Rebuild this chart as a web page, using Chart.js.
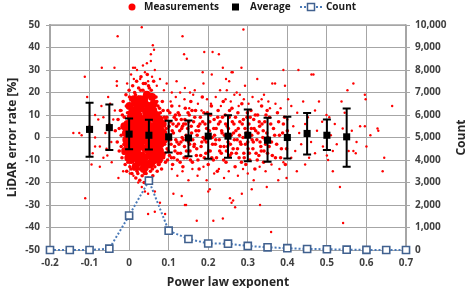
<!DOCTYPE html>
<html>
<head>
<meta charset="utf-8">
<script src="https://cdn.jsdelivr.net/npm/chart.js@4/dist/chart.umd.min.js"></script>
<style>
  html, body { margin: 0; padding: 0; background: #fff; }
</style>
</head>
<body>
<canvas id="chart" width="475" height="288"></canvas>
<script>
// average error rate per exponent bin, with whisker ends
const avgX = [-0.1, -0.05, 0, 0.05, 0.1, 0.15, 0.2, 0.25, 0.3, 0.35, 0.4, 0.45, 0.5, 0.55];
const avgY = [3.6, 4.4, 1.5, 1.0, 0.3, -0.2, 0.6, 0.6, 1.0, -1.2, 0.0, 1.8, 1.0, 0.3];
const avgUpper = [15.5, 14.7, 8.4, 7.9, 7.4, 7.6, 10.6, 9.9, 12.5, 8.8, 9.2, 10.9, 8.0, 12.9];
const avgLower = [-8.6, -5.6, -5.2, -5.3, -6.7, -8.3, -9.4, -9.0, -10.6, -10.8, -9.3, -7.6, -5.6, -13.0];

// number of samples per bin (right axis)
const countX = [-0.2, -0.15, -0.1, -0.05, 0, 0.05, 0.1, 0.15, 0.2, 0.25, 0.3, 0.35, 0.4, 0.45, 0.5, 0.55, 0.6, 0.65, 0.7];
const countY = [0, 0, 0, 60, 1530, 3080, 860, 490, 290, 280, 180, 120, 80, 45, 35, 15, 5, 0, 0];

// measurements: saturated core of the cloud
const measCore = [
  [-0.008,2],[-0.005,-3],[-0.004,6],[0.002,-7],[0.003,0],[0.004,9],[0.006,4],[0.008,-4],[0.01,12],[0.012,-9],
  [0.013,2],[0.015,7],[0.016,-2],[0.018,15],[0.02,-6],[0.021,4],[0.023,10],[0.024,-11],[0.026,0],[0.027,6],
  [0.029,-4],[0.03,13],[0.032,2],[0.033,-8],[0.035,8],[0.036,-1],[0.038,17],[0.04,4],[0.041,-5],[0.043,11],
  [0.044,-12],[0.046,1],[0.047,7],[0.049,-3],[0.05,14],[0.052,-8],[0.053,3],[0.055,9],[0.056,-1],[0.058,-6],
  [0.06,5],[0.061,12],[0.063,-3],[0.065,1],[0.066,8],[0.068,-9],[0.07,3],[0.072,-4],[0.074,6],[0.076,0],
  [0.078,-6],[0.08,3],[0.083,-2],[0.005,-10],[0.017,-13],[0.028,17],[0.037,-14],[0.045,19],[0.057,-11],[0.062,15],
  [0.069,10],[0.075,-10],[0.085,6],[0.088,-1],[-0.01,-6],[-0.012,5],[0.001,14],[0.011,-1],[0.019,1],[0.022,-3],
  [0.031,-2],[0.034,5],[0.039,0],[0.042,2],[0.048,-1],[0.051,5],[0.054,-4],[0.059,1],[0.064,-6],[0.067,4],
  [0.073,1],[0.009,6],[0.025,9],[0.044,9],[0.05,-6],[0.016,-7],[0.003,3],
  [0.0,-2],[0.007,11],[0.014,-5],[0.02,9],[0.027,-9],[0.033,15],[0.04,-9],[0.046,12],[0.053,-12],[0.06,9],
  [0.066,-2],[0.071,-7],[0.077,8],[0.082,-8],[0.086,2],[-0.002,-9],[0.012,17],[0.04,15],[0.058,18],[0.035,-11],
  [0.062,-9],[0.079,-3],[-0.007,-1],[0.022,13],[0.052,10]
];

// measurements: dense band
const measDense = [
  [-0.035,3],[-0.03,-2],[-0.028,8],[-0.025,-6],[-0.022,12],[-0.02,1],[-0.018,-9],[-0.016,5],[-0.015,16],[-0.013,-3],
  [-0.012,9],[-0.01,-12],[-0.008,19],[-0.006,-15],[-0.004,11],[-0.002,-8],[0,21],[0.002,-13],[0.004,17],[0.007,-16],
  [0.009,23],[0.012,-14],[0.014,20],[0.017,-18],[0.019,25],[0.022,-16],[0.024,22],[0.027,-19],[0.03,27],[0.033,-17],
  [0.035,21],[0.038,-20],[0.041,24],[0.043,-16],[0.046,28],[0.048,-18],[0.051,22],[0.054,-15],[0.057,19],[0.06,-17],
  [0.062,25],[0.065,-13],[0.068,18],[0.071,-15],[0.073,14],[0.076,-12],[0.079,11],[0.082,-14],[0.084,16],[0.087,-9],
  [0.089,9],[0.092,-11],[0.094,4],[0.096,-5],[0.098,12],[0.1,0],[0.102,-8],[0.104,7],[0.106,-3],[0.108,14],
  [0.11,-12],[0.112,2],[0.114,9],[0.116,-6],[0.118,-1],[0.12,5],[0.122,-10],[0.124,11],[0.126,-3],[0.128,3],
  [0.13,-7],[0.132,8],[0.134,0],[0.136,-13],[0.138,6],[0.14,-4],[0.142,13],[0.144,1],[0.146,-9],[0.148,4],
  [0.15,-2],[0.152,10],[0.154,-6],[0.156,16],[0.158,2],[0.16,-11],[0.163,7],[0.165,-3],[0.168,12],[0.17,-8],
  [0.172,1],[0.175,5],[0.177,-14],[0.18,9],[0.182,-4],[0.185,18],[0.187,0],[0.19,-9],[0.192,6],[0.195,-2],
  [0.198,11],[0.2,-12],[0.203,3],[0.205,-6],[0.208,14],[0.21,0],[0.213,-10],[0.215,8],[0.218,-3],[0.22,4],
  [0.223,-15],[0.225,12],[0.228,-1],[0.23,7],[0.233,-7],[0.235,2],[0.238,16],[0.24,-4],[0.243,10],[0.245,-11],
  [0.248,5],[0.25,-2],[0.253,9],[0.255,-8],[0.258,1],[0.26,13],[0.263,-5],[0.265,6],[0.268,-13],[0.27,3],
  [0.273,-1],[0.275,11],[0.278,-9],[0.28,7],[0.283,-3],[0.285,15],[0.288,0],[0.29,-7],[0.293,4],[0.295,-12],
  [0.298,9],[0.3,-2],[0.303,6],[0.305,-10],[0.308,12],[0.31,1],[0.313,-5],[0.315,8],[0.318,-14],[0.32,3],
  [0.323,-1],[0.325,10],[0.328,-8],[0.33,5],[0.333,-4],[0.335,14],[0.338,0],[0.34,-11],[0.343,7],[0.345,-3],
  [0.348,2],[0.35,-7],[0.355,9],[0.36,-2],[0.365,4],[0.37,-9],[0.375,11],[0.38,1],[0.385,-5],[0.39,6],
  [0.395,-12],[0.4,3],
  [0.085,2],[0.09,-3],[0.093,8],[0.097,-10],[0.101,5],[0.105,-1],[0.109,3],[0.113,-9],[0.117,10],[0.121,-2],
  [0.125,6],[0.129,-11],[0.133,4],[0.137,-1],[0.141,8],[0.145,-6],[0.149,11],[0.153,-3],[0.157,5],[0.161,-1],
  [0.166,9],[0.171,-5],[0.176,3],[0.181,-8],[0.186,7],[0.191,-1],[0.196,4],[0.201,-6],[0.206,10],[0.211,-3],
  [0.216,1],[0.221,-9],[0.226,6],[0.231,-4],[0.236,9],[0.241,1],[0.246,-6],[0.251,4],[0.256,-3],[0.261,7],
  [0.266,-1],[0.271,-7],[0.276,4],[0.281,-2],[0.286,6],[0.291,-9],[0.296,2],[0.301,-5],[0.306,9],[0.311,-1],
  [0.316,4],[0.321,-7],[0.326,2],[0.331,-2],[0.336,6],[0.341,-6],[0.346,10],[0.351,0],
  [-0.025,4],[-0.02,-4],[-0.017,10],[-0.014,-7],[-0.011,2],[-0.007,14],[-0.003,-11],[0.001,18],[0.005,-14],[0.008,15],
  [0.013,-12],[0.016,19],[0.02,-15],[0.023,18],[0.026,-14],[0.029,21],[0.032,-13],[0.036,24],[0.039,-16],[0.042,20],
  [0.045,-14],[0.049,23],[0.052,-12],[0.056,21],[0.059,-14],[0.063,18],[0.066,-11],[0.07,16],[0.074,-12],[0.077,13],
  [0.081,-10],[0.086,12],[0.09,-7],[0.095,9],[0.099,-6],[0.103,11],[0.107,-9],[0.111,6],[0.115,-4],[0.119,8],
  [0.123,-7],[0.127,10],[0.131,-2],[0.135,5],[0.139,-9],[0.143,6],[0.147,-1],[0.151,7],[0.155,-10],[0.159,12],
  [0.164,-4],[0.169,3],[0.174,-10],[0.179,6],[0.184,-2],[0.189,11],[0.194,-7],[0.199,1],[0.204,7],[0.209,-9],
  [0.214,4],[0.219,-1],[0.224,9],[0.229,-6],[0.234,3],[0.239,-10],[0.244,6],[0.249,-4],[0.254,12],[0.259,-7],
  [0.264,2],[0.269,9],[0.274,-5],[0.279,1],[0.284,-11],[0.289,8],[0.294,-3],[0.299,11],[0.304,-7],[0.309,4],
  [0.314,-2],[0.319,10],[0.324,-10],[0.329,7],[0.334,-6],[0.339,3],[0.344,-1],[0.349,12],[0.354,-4],[0.358,6],
  [0.362,-8],[0.368,1],[0.373,-3],[0.378,7],[0.383,-9],[0.388,2],[0.393,9],[0.398,-5]
];

// measurements: scattered outliers
const measSparse = [
  [0.032,49],[-0.029,45],[0.06,41],[0.055,37],[0.063,39],[0.055,34],[-0.112,27],[-0.037,31],[-0.031,25],[-0.031,23],
  [0.01,31],[0.015,31],[-0.053,18],[-0.019,12],[-0.106,18],[-0.069,31],
  [0.135,45],[0.289,48],[0.139,37],[0.146,35],[0.19,38],[0.211,38],[0.227,37],[0.186,29],[0.237,31],[0.259,29],
  [0.262,29],[0.284,31],[0.12,25],[0.209,28],[0.245,26],[0.253,25],[0.188,24],[0.293,23],[0.324,26],[0.362,24],
  [0.369,24],[0.39,30],[0.428,30],[0.394,23],[0.141,22],[0.154,20],[0.166,21],[0.129,20],[0.108,20],[0.23,21],
  [0.247,21],[0.272,20],[0.28,19],[0.335,17],[0.356,13],[0.402,17],
  [0.461,28],[0.466,28],[0.567,24],[0.552,21],[0.596,19],[0.598,17],[0.665,14],[0.48,16],[0.537,16],[0.499,10],
  [0.506,9],[0.584,5],[0.596,5],[0.628,4],[0.63,3],[0.563,3],
  [0.005,28],[0.02,30],[0.028,26],[0.04,29],[0.048,25],[0.058,27],[0.07,23],[0.078,26],[0.088,21],[0.095,24],
  [0.065,30],[0.035,32],[0.012,26],[-0.005,24],[0.045,33],
  [0.105,16],[0.118,18],[0.127,14],[0.14,17],[0.152,13],[0.162,19],[0.174,15],[0.183,12],[0.197,17],[0.207,15],
  [0.219,18],[0.232,14],[0.244,17],[0.257,16],[0.266,19],[0.277,14],[0.29,17],[0.302,15],[0.312,18],[0.327,16],
  [0.341,19],[0.352,16],[0.37,15],[0.383,13],[0.41,14],[0.425,11],[0.44,16],[0.452,9],[0.47,12],[0.488,7],
  [0.52,6],[0.545,11],[0.4,8],[0.415,5],[0.43,2],[0.445,6],[0.46,-2],[0.475,3],[0.49,-4],[0.51,1],
  [0.525,-3],[0.54,4],[0.555,-6],[0.575,-2],[0.61,1],[0.42,-6],[0.435,-3],[0.455,-9],[0.47,-7],[0.5,-8],
  [0.515,-6],[0.6,-4],[0.645,-9],
  [0.641,-15],[0.515,-15],[0.533,-22],[0.541,-38],[0.567,-6],[0.573,-7],[0.445,-12],[0.424,-15],[0.503,-10],
  [0.171,-37],[0.213,-37],[0.237,-36],[0.359,-42],[0.331,-30],[0.133,-26],[0.141,-30],[0.144,-30],[0.112,-25],[0.255,-27],
  [0.259,-29],[0.263,-28],[0.204,-23],[0.2,-24],[0.285,-25],[0.31,-23],[0.348,-22],[0.377,-19],[0.398,-18],[0.268,-31],
  [-0.111,-27],[-0.095,-12],[-0.065,-9],[-0.074,-13],[0.002,-16],[0.011,-17],[0.04,-24],[0.048,-25],[0.065,-24],[0.078,-29],
  [0.065,-33],[0.091,-34],[0.048,-34],[-0.044,-11],[-0.027,-18],[-0.015,-15],[0.023,-20],[0.032,-22],[-0.086,-4],[-0.057,-5],
  [0.108,-14],[0.122,-17],[0.135,-15],[0.15,-19],[0.16,-14],[0.173,-17],[0.188,-13],[0.196,-19],[0.215,-16],[0.227,-14],
  [0.24,-18],[0.252,-15],[0.275,-17],[0.288,-14],[0.3,-16],[0.315,-19],[0.33,-13],[0.345,-15],[0.36,-12],[0.38,-14],
  [0.39,-11],[0.41,-9],
  [-0.141,2],[-0.126,2],[-0.12,1],[-0.086,0],[-0.074,-4],[-0.065,9],[-0.036,12],[-0.086,10],[-0.078,8],[-0.07,14],
  [-0.05,6],[-0.045,-2],[-0.06,2],[-0.04,8],[-0.055,-8],[-0.048,15],[-0.1,5],[-0.092,-7]
];

const red = "#ff0000";
const countLine = "#4a7ab8";
const countMarker = "#41618f";
const gridGray = "#a6a6a6";
const FONT = "'Open Sans', sans-serif";

Chart.defaults.font.family = FONT;
Chart.defaults.color = "#404040";

const toPoints = arr => arr.map(p => ({ x: p[0], y: p[1] }));

// whiskers are drawn right before the Average squares
const errorBars = {
    id: "errorBars",
    beforeDatasetDraw(chart, args) {
        if (args.index !== 3) return;
        const c = chart.ctx, xs = chart.scales.x, ys = chart.scales.y;
        c.save();
        c.strokeStyle = "#000";
        c.lineWidth = 2;
        avgX.forEach((x, i) => {
            const px = xs.getPixelForValue(x);
            const top = ys.getPixelForValue(avgUpper[i]);
            const bot = ys.getPixelForValue(avgLower[i]);
            c.beginPath();
            c.moveTo(px, top); c.lineTo(px, bot);
            c.moveTo(px - 4, top); c.lineTo(px + 4, top);
            c.moveTo(px - 4, bot); c.lineTo(px + 4, bot);
            c.stroke();
        });
        c.restore();
    }
};

// top frame line, right axis title and the legend row
const extras = {
    id: "extras",
    beforeDatasetsDraw(chart) {
        const c = chart.ctx, a = chart.chartArea;
        c.save();
        c.strokeStyle = gridGray;
        c.lineWidth = 1.5;
        c.beginPath(); c.moveTo(a.left, a.top); c.lineTo(a.right, a.top); c.stroke();
        c.restore();
    },
    afterDraw(chart) {
        const c = chart.ctx, a = chart.chartArea;
        c.save();
        c.font = "bold 12px " + FONT;
        c.fillStyle = "#262626";
        c.textAlign = "center";
        c.textBaseline = "middle";
        c.translate(462, (a.top + a.bottom) / 2);
        c.rotate(-Math.PI / 2);
        c.fillText("Count", 0, 0);
        c.restore();

        const y = 7;
        c.save();
        c.font = "bold 10px " + FONT;
        c.textBaseline = "middle";
        c.fillStyle = red;
        c.beginPath(); c.arc(132, y, 3.5, 0, Math.PI * 2); c.fill();
        c.fillStyle = "#1a1a1a";
        c.fillText(chart.data.datasets[0].label, 144, y);
        c.fillStyle = "#000";
        c.fillRect(232, y - 3.5, 7, 7);
        c.fillStyle = "#1a1a1a";
        c.fillText(chart.data.datasets[3].label, 250, y);
        c.strokeStyle = countLine;
        c.lineWidth = 2;
        c.setLineDash([2, 2]);
        c.beginPath(); c.moveTo(300, y); c.lineTo(322, y); c.stroke();
        c.setLineDash([]);
        c.fillStyle = "#fff";
        c.fillRect(307.5, y - 3.5, 7, 7);
        c.strokeStyle = countMarker;
        c.lineWidth = 1.5;
        c.strokeRect(307.5, y - 3.5, 7, 7);
        c.fillStyle = "#1a1a1a";
        c.fillText(chart.data.datasets[4].label, 326, y);
        c.restore();
    }
};

const ctx = document.getElementById("chart").getContext("2d");
const chart = new Chart(ctx, {
    type: "scatter",
    data: {
        datasets: [
            {
                label: "Measurements",
                data: toPoints(measSparse),
                backgroundColor: red,
                pointRadius: 1.2,
                pointBorderWidth: 0,
                order: 10
            },
            {
                label: "dense",
                data: toPoints(measDense),
                backgroundColor: red,
                pointRadius: 1.8,
                pointBorderWidth: 0,
                order: 10
            },
            {
                label: "core",
                data: toPoints(measCore),
                backgroundColor: red,
                pointRadius: 4,
                pointBorderWidth: 0,
                order: 10
            },
            {
                type: "line",
                label: "Average",
                data: avgX.map((x, i) => ({ x: x, y: avgY[i] })),
                showLine: false,
                pointStyle: "rect",
                pointRadius: 5,
                pointBorderWidth: 0,
                backgroundColor: "#000",
                borderColor: "#000",
                order: 2
            },
            {
                type: "line",
                label: "Count",
                yAxisID: "y2",
                data: countX.map((x, i) => ({ x: x, y: countY[i] })),
                borderColor: countLine,
                borderWidth: 2,
                borderDash: [2, 2],
                pointStyle: "rect",
                pointRadius: 5,
                pointBorderWidth: 1.6,
                pointBorderColor: countMarker,
                pointBackgroundColor: "#fff",
                backgroundColor: "#fff",
                fill: false,
                clip: false,
                order: 1
            }
        ]
    },
    options: {
        responsive: false,
        animation: false,
        events: [],
        layout: { padding: { top: 25, left: 0, right: 0, bottom: 0 } },
        plugins: {
            legend: { display: false },
            tooltip: { enabled: false }
        },
        scales: {
            x: {
                type: "linear",
                min: -0.2,
                max: 0.7,
                afterFit: s => { s.height = 38; },
                ticks: {
                    stepSize: 0.1,
                    padding: 7,
                    font: { size: 10, weight: "bold" },
                    color: "#404040",
                    callback: v => String(+v.toFixed(2))
                },
                grid: { color: gridGray, borderDash: [2, 2], drawTicks: false },
                border: { color: gridGray, width: 1 },
                title: {
                    display: true,
                    text: "Power law exponent",
                    font: { size: 12, weight: "bold" },
                    color: "#262626",
                    padding: { top: 0, bottom: -2 }
                }
            },
            y: {
                min: -50,
                max: 50,
                afterFit: s => { s.width = 50; },
                ticks: {
                    stepSize: 10,
                    padding: 6,
                    font: { size: 10, weight: "bold" },
                    color: "#404040"
                },
                grid: { color: gridGray, borderDash: [2, 2], tickLength: 4, tickBorderDash: [] },
                border: { color: gridGray, width: 2 },
                title: {
                    display: true,
                    text: "LiDAR error rate [%]",
                    font: { size: 12, weight: "bold" },
                    color: "#262626",
                    padding: { top: 5, bottom: 0 }
                }
            },
            y2: {
                position: "right",
                min: 0,
                max: 10000,
                afterFit: s => { s.width = 69; },
                ticks: {
                    stepSize: 1000,
                    padding: 5,
                    font: { size: 10, weight: "bold" },
                    color: "#404040",
                    callback: v => v.toLocaleString("en-US")
                },
                grid: { drawOnChartArea: false, color: gridGray, tickLength: 4 },
                border: { color: gridGray, width: 1.5 }
            }
        }
    },
    plugins: [errorBars, extras]
});
</script>
</body>
</html>
